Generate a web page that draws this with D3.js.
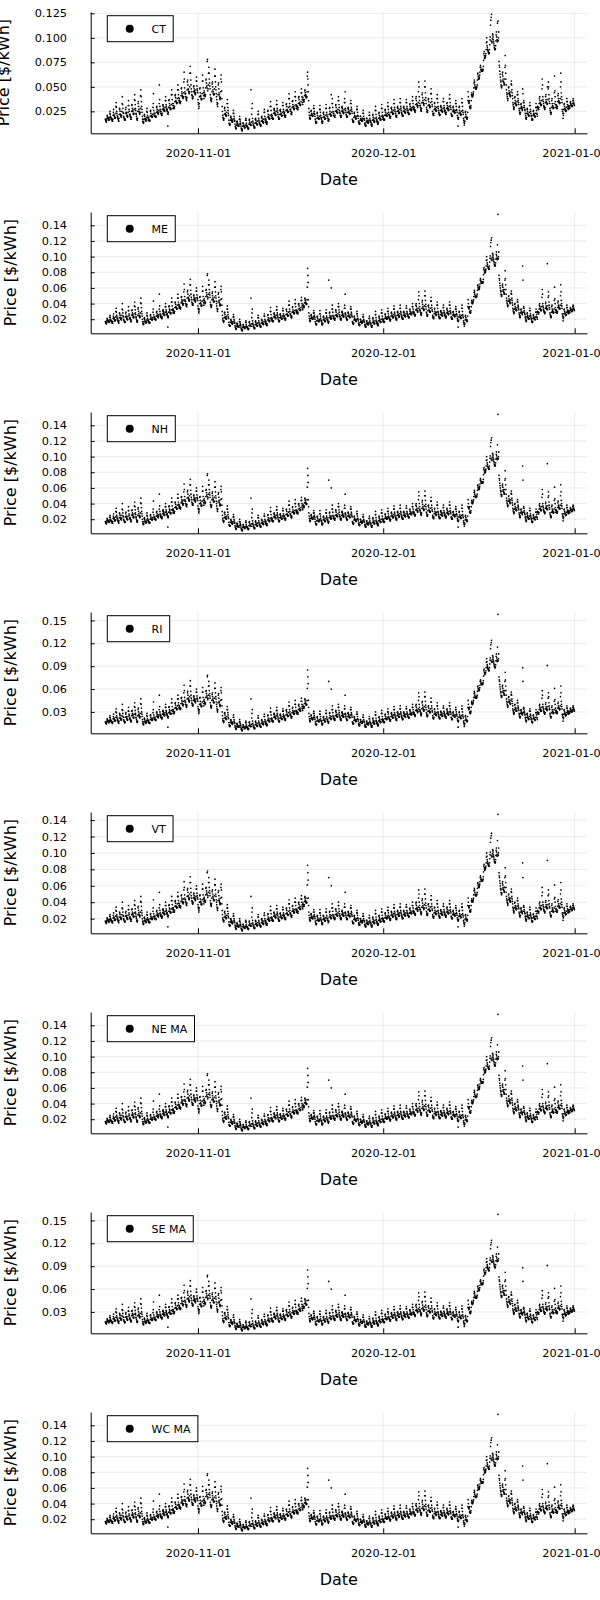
<!DOCTYPE html>
<html><head><meta charset="utf-8">
<script src="https://cdn.jsdelivr.net/npm/d3@7"></script>
<style>body{margin:0;background:#fff} svg{display:block} text{font-family:"DejaVu Sans",sans-serif}</style>
</head><body><svg id="c" width="600" height="1600"></svg>
<script>
// ISO-NE zonal hourly prices in $/MWh, 2020-10-17 00:00 UTC onward, one row per day
const zones = ["CT","ME","NH","RI","VT","NE MA","SE MA","WC MA"];
const octPrices = [
17,16,15,16,14,16,18,21,20,19,18,18,17,16,16,17,19,23,25,22,20,19,18,17,
18,17,16,15,15,17,21,24,27,22,21,20,18,19,18,19,23,30,34,29,25,23,21,19,
20,18,17,16,15,18,22,28,27,25,22,22,20,21,19,21,25,33,40,32,28,24,23,20,
19,18,17,16,16,17,23,27,29,24,23,21,21,20,19,20,24,31,36,31,27,25,22,21,
22,20,19,17,17,19,25,31,32,28,26,25,23,22,22,23,27,37,42,36,32,28,26,23,
22,20,18,17,16,18,25,33,35,30,27,25,24,23,22,24,28,41,47,40,35,30,27,24,
20,17,15,14,13,14,17,21,22,20,18,17,16,16,15,17,19,25,28,24,21,19,18,16,
19,17,16,15,15,16,20,25,26,23,21,20,20,19,19,20,22,29,33,43,26,23,21,20,
23,21,20,19,19,20,24,29,30,27,25,24,23,23,22,24,26,33,52,37,30,27,25,23,
25,23,22,21,21,23,27,31,32,30,28,27,26,25,25,26,29,36,40,36,32,30,28,26,
27,25,23,10,22,24,29,36,37,33,31,29,28,27,27,28,32,42,47,42,37,33,31,28,
33,31,29,28,28,30,35,41,42,39,36,35,34,33,33,34,38,47,52,47,42,39,36,34,
38,36,35,34,33,35,41,48,49,45,43,41,40,39,38,40,44,55,65,58,49,45,43,40,
43,40,38,37,36,39,47,55,57,52,48,47,45,44,43,45,50,64,71,64,57,52,48,45,
42,41,39,38,38,40,45,50,51,48,46,45,44,43,42,44,47,56,60,56,51,48,46,44];
const novPrices = [
37,34,32,28,30,33,40,48,49,44,41,40,38,37,37,38,43,56,62,56,49,44,41,38,
46,44,42,41,40,42,49,57,58,54,51,49,76,78,46,48,52,64,70,64,58,54,51,48,
42,39,37,36,35,38,45,53,55,50,47,45,43,42,42,43,48,61,68,61,55,50,47,43,
40,37,34,32,30,33,42,52,54,48,44,42,40,38,37,39,45,58,62,55,46,38,30,25,
21,19,18,17,16,18,22,28,29,26,23,22,21,21,20,21,24,33,37,33,29,26,23,21,
16,13,12,11,11,12,16,19,20,18,16,16,15,14,14,15,17,23,26,23,20,18,16,15,
12,10,9,8,7,8,11,14,15,13,12,11,10,10,10,10,12,17,20,17,15,13,12,10,
8,7,6,6,5,7,10,13,13,11,10,10,9,9,8,9,11,16,18,16,13,11,10,9,
10,9,8,7,7,8,12,16,17,14,12,12,11,11,47,11,14,22,28,33,18,15,13,11,
11,10,9,8,8,9,13,17,18,16,14,13,12,12,11,12,15,22,25,22,18,16,14,12,
13,12,11,10,10,11,15,19,20,18,16,15,14,14,13,14,17,24,27,24,20,18,16,14,
17,15,13,12,12,14,19,25,26,22,20,19,18,17,17,18,21,30,35,30,26,22,20,18,
21,19,18,17,17,18,23,27,28,26,24,23,22,21,21,22,25,32,36,32,28,26,24,22,
20,19,18,17,17,18,22,26,27,25,23,22,21,21,20,21,24,31,34,31,27,25,23,21,
24,22,20,19,19,21,26,32,33,30,27,26,25,24,24,25,29,38,43,38,33,30,27,25,
27,25,23,22,22,24,29,35,36,32,30,29,28,27,27,28,31,40,45,40,36,32,30,28,
31,30,28,27,27,29,33,39,40,37,34,33,32,32,31,32,35,44,48,44,40,37,34,32,
39,37,36,35,35,37,41,46,47,44,42,41,40,39,39,40,45,61,85,76,67,45,36,28,
24,21,19,18,17,18,21,25,26,23,22,21,21,20,20,21,23,28,31,28,25,23,22,20,
17,15,14,13,13,14,18,23,24,21,19,18,18,17,17,18,20,27,31,27,24,21,19,18,
17,15,14,13,13,15,19,23,24,22,20,19,18,17,17,18,21,28,32,28,24,22,20,18,
20,18,16,15,70,17,22,28,29,25,23,22,21,20,60,21,24,33,38,33,29,25,23,21,
23,21,20,19,19,21,25,31,32,29,26,25,24,24,23,24,27,36,40,36,32,29,26,24,
23,21,20,19,19,21,25,29,30,28,26,25,24,23,23,24,27,34,38,34,52,28,26,24,
22,21,20,19,19,20,24,28,29,27,25,24,23,23,22,23,26,33,36,33,29,27,25,23,
17,16,15,14,14,15,19,23,24,21,20,19,18,18,17,18,20,27,30,27,24,21,20,18,
15,14,13,12,12,13,16,20,20,18,17,16,16,15,15,16,18,23,26,23,20,18,17,16,
13,12,11,10,10,11,14,18,18,16,15,14,14,13,13,14,16,21,24,21,18,16,15,14,
14,12,11,10,10,12,16,21,22,19,17,16,15,14,14,15,18,26,30,26,22,19,17,15,
16,14,13,12,12,14,18,23,24,21,19,18,17,16,16,17,20,28,32,28,24,21,19,17];
const decPrices = [
20,18,17,16,16,17,21,26,27,24,22,21,21,20,20,21,23,30,34,30,27,24,22,21,
22,20,19,18,18,20,24,28,29,27,25,24,23,22,22,23,26,33,37,33,29,27,25,23,
23,21,20,19,19,21,25,29,30,28,26,25,24,23,23,24,27,34,38,34,30,28,26,24,
23,22,21,20,20,21,25,29,30,28,26,25,24,24,23,24,27,34,37,34,30,28,26,24,
26,24,23,22,22,23,27,32,33,30,28,27,27,26,26,27,29,36,40,36,33,30,28,27,
29,27,26,25,24,26,32,38,40,36,33,32,31,30,29,31,34,45,55,50,40,36,33,31,
31,29,27,26,25,28,34,42,44,39,36,34,33,32,31,33,37,50,56,50,44,39,36,33,
29,27,25,24,24,26,31,37,38,35,32,31,30,29,29,30,34,43,48,43,38,35,32,30,
25,23,22,21,21,23,27,33,34,30,28,27,26,26,25,26,29,38,42,38,34,30,28,26,
24,23,22,21,21,22,26,30,31,29,27,26,25,25,24,25,28,35,38,35,31,29,27,25,
26,24,23,22,22,24,28,33,34,31,29,28,27,26,26,27,30,38,42,38,34,31,29,27,
23,22,21,20,20,21,25,29,30,27,26,25,24,24,23,24,26,33,36,33,30,27,26,24,
21,19,18,10,17,19,23,29,30,26,24,23,22,22,21,22,25,34,38,34,30,26,24,22,
18,16,14,11,13,15,19,24,25,22,20,19,18,18,17,19,24,36,45,40,35,33,34,36,
30,29,28,28,29,31,36,42,44,41,40,40,41,42,43,45,49,54,57,55,52,50,49,48,
49,48,48,49,50,52,57,63,64,61,59,58,58,59,60,62,65,70,72,70,68,67,66,66,
67,66,66,67,68,71,77,84,86,82,80,79,80,81,82,84,88,95,100,96,92,90,88,87,
86,85,84,84,85,88,93,98,101,113,118,97,121,124,95,96,99,104,103,101,98,96,94,92,
90,89,88,88,89,92,97,103,106,101,98,96,115,98,154,97,100,106,76,72,70,66,63,60,
57,55,52,50,49,51,56,63,65,61,58,56,55,54,52,53,58,70,82,72,64,58,52,47,
44,42,40,38,36,38,43,49,50,46,44,43,42,41,40,41,45,53,56,52,47,44,41,38,
34,32,30,28,27,29,33,39,40,36,34,33,32,31,31,32,35,42,45,42,38,36,34,32,
28,26,24,23,22,24,28,32,33,30,29,28,27,26,88,70,29,34,36,34,31,29,27,26,
23,21,19,18,17,19,23,27,28,25,23,22,21,21,20,21,24,31,34,31,27,25,23,21,
20,18,17,16,16,17,21,25,26,23,22,21,20,20,19,20,23,29,33,29,26,23,22,20,
30,29,28,27,27,29,33,38,40,36,34,33,32,31,31,32,36,48,58,52,40,37,35,33,
31,30,29,28,27,29,34,40,42,37,35,34,33,32,91,33,37,48,55,50,42,38,35,33,
28,26,24,23,22,24,29,36,38,33,31,30,29,28,28,29,33,44,61,46,40,35,32,29,
32,31,29,28,28,30,35,41,43,38,36,35,34,33,33,34,38,50,64,55,44,40,37,34,
27,25,23,18,21,23,27,32,33,30,28,27,26,25,25,26,29,35,38,35,32,30,28,27,
31,30,29,28,28,29,31,34,35,33,32,31,31,30,30,31,33,36,38,36,34,33,32,31];
// zone-specific hours that differ from the shared profile ($/MWh)
const ctAdjust = [["2020-11-18T18",65],["2020-11-18T19",58],["2020-11-18T20",52],["2020-11-22T04",16],["2020-11-22T14",42],["2020-11-24T20",45],["2020-12-19T14",117],["2020-12-23T14",48],["2020-12-23T15",43],["2020-12-27T14",50]];
const vtAdjust = [["2020-12-19T14",147]];
const riAdjust = [["2020-12-19T14",158]];
const seAdjust = [["2020-12-19T14",158]];
const zoneAdjust = {"CT": ctAdjust, "VT": vtAdjust, "RI": riAdjust, "SE MA": seAdjust};
// y tick labels per zone
const ticks025 = ["0.025","0.050","0.075","0.100","0.125"];
const ticks02 = ["0.02","0.04","0.06","0.08","0.10","0.12","0.14"];
const ticks03 = ["0.03","0.06","0.09","0.12","0.15"];
const zoneTicks = {"CT": ticks025, "ME": ticks02, "NH": ticks02, "RI": ticks03, "VT": ticks02, "NE MA": ticks02, "SE MA": ticks03, "WC MA": ticks02};
const xTickLabels = ["2020-11-01","2020-12-01","2021-01-01"];
const xLimits = ["2020-10-14T15:00:00Z","2021-01-03T00:00:00Z"];
const startTime = "2020-10-17T00:00:00Z";

const mainPrices = octPrices.concat(novPrices, decPrices);
const t0 = new Date(startTime).getTime();
const H = 3600e3;

const svg = d3.select("#c");
const panelH = 200, L = 90.7, R = 587, T = 12, B = 133.3;
const FS = 11.3;
const x = d3.scaleUtc().domain(xLimits.map(s => new Date(s))).range([L, R]);
const xTickDates = xTickLabels.map(s => new Date(s + "T00:00:00Z"));

zones.forEach((z, i) => {
  const oy = i * panelH;
  const vals = mainPrices.slice();
  (zoneAdjust[z] || []).forEach(([s, v]) => {
    const k = Math.round((new Date(s + ":00:00Z").getTime() - t0) / H);
    vals[k] = v;
  });
  const data = vals.map((v, k) => ({t: new Date(t0 + k * H), p: v / 1000}));
  const [lo, hi] = d3.extent(data, d => d.p);
  const pad = (hi - lo) * 0.02;
  const y = d3.scaleLinear().domain([lo - pad, hi + pad]).range([oy + B, oy + T]);
  const tl = zoneTicks[z];
  const tv = tl.map(Number);
  const g = svg.append("g");

  // grid
  g.append("g").selectAll("line").data(xTickDates).join("line")
    .attr("x1", d => x(d)).attr("x2", d => x(d)).attr("y1", oy + T).attr("y2", oy + B)
    .attr("stroke", "#000").attr("stroke-opacity", 0.1).attr("stroke-width", 0.8);
  g.append("g").selectAll("line").data(tv).join("line")
    .attr("x1", L).attr("x2", R).attr("y1", d => y(d)).attr("y2", d => y(d))
    .attr("stroke", "#000").attr("stroke-opacity", 0.1).attr("stroke-width", 0.8);

  // points
  g.append("g").selectAll("circle").data(data).join("circle")
    .attr("cx", d => x(d.t)).attr("cy", d => y(d.p)).attr("r", 0.85).attr("fill", "#000");

  // axes
  const ya = g.append("g").attr("transform", `translate(${L},0)`)
    .call(d3.axisLeft(y).tickValues(tv).tickFormat((d, j) => tl[j]).tickSizeInner(-4).tickSizeOuter(0).tickPadding(23.7));
  const xa = g.append("g").attr("transform", `translate(0,${oy + B})`)
    .call(d3.axisBottom(x).tickValues(xTickDates).tickFormat((d, j) => xTickLabels[j]).tickSizeInner(-5).tickSizeOuter(0).tickPadding(15.4));
  [ya, xa].forEach(a => {
    a.attr("font-family", null).attr("font-size", null);
    a.selectAll("text").attr("font-size", FS).attr("fill", "#000").style("font-family", '"DejaVu Sans",sans-serif');
    a.select(".domain").attr("stroke", "#000").attr("stroke-width", 1);
    a.selectAll(".tick line").attr("stroke", "#000").attr("stroke-width", 1);
  });

  // axis titles
  let maxW = 0;
  ya.selectAll("text").each(function() { maxW = Math.max(maxW, this.getComputedTextLength()); });
  const tickLeft = L - 23.7 - maxW;
  g.append("text").attr("transform", `translate(${tickLeft - 26},${oy + (T + B) / 2}) rotate(-90)`)
    .attr("text-anchor", "middle").attr("font-size", 16).text("Price [$/kWh]");
  g.append("text").attr("x", (L + R) / 2).attr("y", oy + 185)
    .attr("text-anchor", "middle").attr("font-size", 16).text("Date");

  // legend
  const lg = g.append("g");
  const rect = lg.append("rect").attr("x", 107.3).attr("y", oy + 15.7).attr("height", 26)
    .attr("fill", "#fff").attr("stroke", "#000").attr("stroke-width", 1);
  lg.append("circle").attr("cx", 129.7).attr("cy", oy + 28.7).attr("r", 4).attr("fill", "#000");
  const lt = lg.append("text").attr("x", 151.5).attr("y", oy + 32.6).attr("font-size", 11).text(z);
  const tw = lt.node().getComputedTextLength();
  rect.attr("width", 151.5 + tw + 7.3 - 107.3);
});
</script>
</body></html>
